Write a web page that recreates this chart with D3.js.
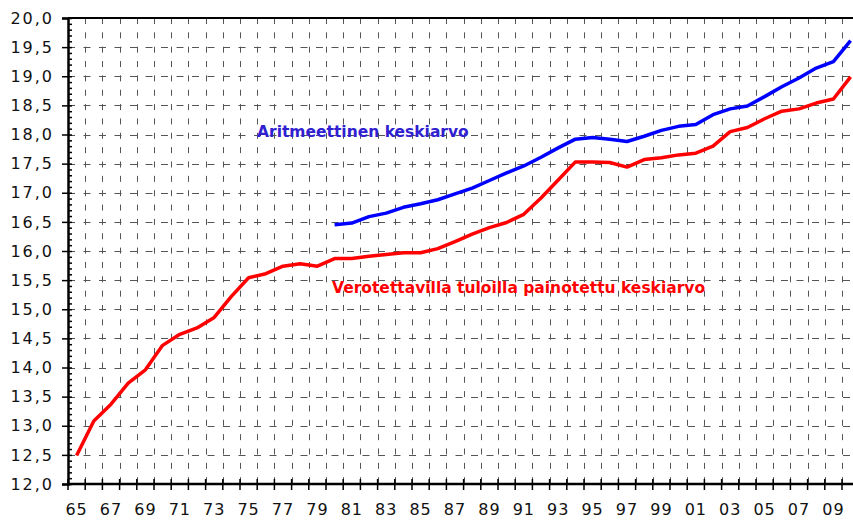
<!DOCTYPE html>
<html>
<head>
<meta charset="utf-8">
<script src="https://cdn.jsdelivr.net/npm/d3@7"></script>
<style>
  body { margin: 0; background: #fff; }
  svg { display: block; }
</style>
</head>
<body>
<script>
// vuodet 1965-2010
const years = d3.range(1965, 2011);

// verotettavilla tuloilla painotettu keskiarvo
const weighted = [
  12.49, 13.08, 13.37, 13.73, 13.96, 14.38, 14.57, 14.68, 14.86, 15.22,
  15.54, 15.61, 15.74, 15.78, 15.74, 15.87, 15.87, 15.91, 15.94, 15.97,
  15.97, 16.04, 16.16, 16.29, 16.40, 16.49, 16.63, 16.91, 17.22, 17.53,
  17.53, 17.52, 17.44, 17.57, 17.60, 17.65, 17.68, 17.80, 18.05, 18.12,
  18.27, 18.40, 18.44, 18.54, 18.61, 18.99
];

// aritmeettinen keskiarvo (alkaa 1980)
const arithmetic = [
  null, null, null, null, null, null, null, null, null, null,
  null, null, null, null, null, 16.45, 16.48, 16.59, 16.65, 16.75,
  16.81, 16.88, 16.98, 17.08, 17.21, 17.34, 17.46, 17.61, 17.77, 17.92,
  17.95, 17.92, 17.88, 17.97, 18.07, 18.14, 18.17, 18.34, 18.44, 18.49,
  18.65, 18.82, 18.97, 19.14, 19.25, 19.61
];

const yTicks = d3.range(12, 20.01, 0.5);
const yMinor = d3.range(12, 20.01, 0.1);
const xLabelYears = years.filter(y => y % 2 === 1);

const width = 853, height = 521;
const padLeft = 68, padTop = 18, padBottom = 484;
const step = 17.2;
const plotRight = padLeft + step * years.length;

const svg = d3.select('body')
  .append('svg')
  .attr('width', width)
  .attr('height', height);

const x = d3.scaleBand()
  .domain(years)
  .range([padLeft, plotRight])
  .padding(0);

const y = d3.scaleLinear()
  .domain([12, 20])
  .range([padBottom, padTop]);

const cx = d => x(d) + x.bandwidth() / 2;

// pystysuorat apuviivat
svg.append('g')
  .selectAll('line')
  .data(years.slice(1))
  .join('line')
  .attr('x1', d => Math.round(x(d)) + 0.5)
  .attr('x2', d => Math.round(x(d)) + 0.5)
  .attr('y1', padTop)
  .attr('y2', padBottom)
  .attr('stroke', '#555')
  .attr('stroke-width', 1)
  .attr('stroke-dasharray', '6,8.35');

// vaakasuorat apuviivat
svg.append('g')
  .selectAll('line')
  .data(yTicks.filter(v => v > 12 && v < 20))
  .join('line')
  .attr('x1', padLeft)
  .attr('x2', width)
  .attr('y1', d => Math.round(y(d)) + 0.5)
  .attr('y2', d => Math.round(y(d)) + 0.5)
  .attr('stroke', '#555')
  .attr('stroke-width', 1)
  .attr('stroke-dasharray', '7,8.5');

// yläreuna
svg.append('line')
  .attr('x1', padLeft).attr('x2', width)
  .attr('y1', padTop).attr('y2', padTop)
  .attr('stroke', '#000')
  .attr('stroke-width', 2);

// y-akseli
const fmt = d3.format('.1f');
const yAxis = d3.axisLeft(y)
  .tickValues(yTicks)
  .tickSize(6)
  .tickPadding(8)
  .tickFormat(d => fmt(d).replace('.', ','));

svg.append('g')
  .attr('transform', `translate(${padLeft},0)`)
  .call(yAxis)
  .call(g => g.select('.domain').attr('stroke-width', 2.5))
  .call(g => g.selectAll('.tick line').attr('stroke-width', 1.5))
  .call(g => g.selectAll('text')
    .attr('font-family', 'DejaVu Sans, Verdana, sans-serif')
    .attr('font-size', 16)
    .attr('letter-spacing', 2)
    .attr('fill', '#111'));

svg.append('g')
  .attr('transform', `translate(${padLeft},0)`)
  .call(d3.axisRight(y).tickValues(yMinor).tickSize(4).tickFormat(''))
  .call(g => g.select('.domain').remove())
  .call(g => g.selectAll('.tick line').attr('stroke-width', 1.5));

// x-akseli
svg.append('line')
  .attr('x1', padLeft - 1).attr('x2', width)
  .attr('y1', padBottom).attr('y2', padBottom)
  .attr('stroke', '#000')
  .attr('stroke-width', 2.5);

svg.append('g')
  .selectAll('line')
  .data(years)
  .join('line')
  .attr('x1', d => x(d))
  .attr('x2', d => x(d))
  .attr('y1', padBottom - 5)
  .attr('y2', padBottom + 6)
  .attr('stroke', '#000')
  .attr('stroke-width', 1.5);

const xAxis = d3.axisBottom(x)
  .tickValues(xLabelYears)
  .tickSize(0)
  .tickPadding(20)
  .tickFormat(d => String(d).slice(2));

svg.append('g')
  .attr('transform', `translate(0,${padBottom})`)
  .call(xAxis)
  .call(g => g.select('.domain').remove())
  .call(g => g.selectAll('text')
    .attr('font-family', 'DejaVu Sans, Verdana, sans-serif')
    .attr('font-size', 16)
    .attr('letter-spacing', 1)
    .attr('fill', '#111'));

// viivat
const line = series => d3.line()
  .defined((d, i) => series[i] !== null)
  .x(d => cx(d))
  .y((d, i) => y(series[i]))(years);

svg.append('path')
  .attr('d', line(weighted))
  .attr('fill', 'none')
  .attr('stroke', '#ff0000')
  .attr('stroke-width', 3.5)
  .attr('stroke-linejoin', 'round');

svg.append('path')
  .attr('d', line(arithmetic))
  .attr('fill', 'none')
  .attr('stroke', '#0000ff')
  .attr('stroke-width', 3.5)
  .attr('stroke-linejoin', 'round');

// selitteet
svg.append('text')
  .attr('x', 257)
  .attr('y', 137)
  .attr('font-family', 'DejaVu Sans, Verdana, sans-serif')
  .attr('font-weight', 'bold')
  .attr('font-size', 15.5)
  .attr('fill', '#3020d0')
  .text('Aritmeettinen keskiarvo');

svg.append('text')
  .attr('x', 332)
  .attr('y', 293)
  .attr('font-family', 'DejaVu Sans, Verdana, sans-serif')
  .attr('font-weight', 'bold')
  .attr('font-size', 15.5)
  .attr('fill', '#ff0000')
  .text('Verotettavilla tuloilla painotettu keskiarvo');
</script>
</body>
</html>
